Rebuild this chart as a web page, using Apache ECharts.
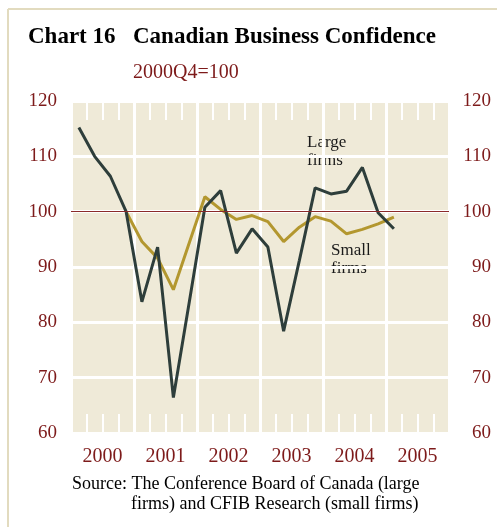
<!DOCTYPE html>
<html>
<head>
<meta charset="utf-8">
<script src="https://cdn.jsdelivr.net/npm/echarts@6/dist/echarts.min.js"></script>
<style>
html,body{margin:0;padding:0;background:#fff;}
#c{width:497px;height:527px;}
</style>
</head>
<body>
<div id="c"></div>
<script>
var quarters = ['2000Q1','2000Q2','2000Q3','2000Q4','2001Q1','2001Q2','2001Q3','2001Q4',
  '2002Q1','2002Q2','2002Q3','2002Q4','2003Q1','2003Q2','2003Q3','2003Q4',
  '2004Q1','2004Q2','2004Q3','2004Q4','2005Q1','2005Q2','2005Q3','2005Q4'];
var years = ['2000','2001','2002','2003','2004','2005'];
var largeFirms = [115.2,110.0,106.4,100.0, 83.7,93.6,66.4,83.5, 100.8,103.8,92.5,96.9,
  93.6,78.4,91.2,104.3, 103.2,103.7,108.0,99.8, 96.9,null,null,null];
var smallFirms = [null,null,null,100.0, 94.6,91.6,85.9,94.3, 102.7,100.4,98.6,99.3,
  98.2,94.6,97.2,99.1, 98.3,96.0,96.8,97.8, 99.0,null,null,null];
var yMin = 60, yMax = 120, yStep = 10;

var serif = '"Liberation Serif", "Times New Roman", serif';
var red = '#7d1a1a';
var chart = echarts.init(document.getElementById('c'), null, {renderer:'canvas'});
var qAxisBase = {
  type:'category', data: quarters, boundaryGap:true, gridIndex:0,
  axisLine:{show:false},
  axisLabel:{show:false},
  axisTick:{show:true, inside:true, length:19, interval:0, lineStyle:{color:'#ffffff', width:2}}
};
chart.setOption({
  animation:false,
  grid:{left:71, right:48, top:101, bottom:94, show:true, backgroundColor:'#efead8', borderWidth:0},
  xAxis:[
    Object.assign({}, qAxisBase, {position:'bottom',
      splitLine:{show:true, interval:3, lineStyle:{color:'#ffffff', width:3}}}),
    Object.assign({}, qAxisBase, {position:'top', splitLine:{show:false}}),
    {type:'category', data: years, boundaryGap:true, position:'bottom', gridIndex:0,
      axisLine:{show:false}, axisTick:{show:false}, splitLine:{show:false},
      axisLabel:{show:true, color:red, fontFamily:serif, fontSize:20, margin:14}}
  ],
  yAxis:[
    {type:'value', min:yMin, max:yMax, interval:yStep, position:'left',
      axisLine:{show:false}, axisTick:{show:false},
      axisLabel:{color:red, fontFamily:serif, fontSize:19, margin:14},
      splitLine:{show:true, lineStyle:{color:'#ffffff', width:3}}},
    {type:'value', min:yMin, max:yMax, interval:yStep, position:'right',
      axisLine:{show:false}, axisTick:{show:false},
      axisLabel:{color:red, fontFamily:serif, fontSize:19, margin:42, align:'right'},
      splitLine:{show:false}}
  ],
  series:[
    {name:'ref', type:'line', xAxisIndex:0, yAxisIndex:0, data:[], z:1,
      markLine:{silent:true, symbol:['none','none'], label:{show:false},
        lineStyle:{color:'#8b2a2a', width:1, type:'solid'}, data:[{yAxis:100}]}},
    {name:'Small firms', type:'line', xAxisIndex:0, yAxisIndex:0, data: smallFirms, z:2,
      showSymbol:false, connectNulls:false, lineStyle:{color:'#b3972f', width:3}},
    {name:'Large firms', type:'line', xAxisIndex:0, yAxisIndex:0, data: largeFirms, z:3,
      showSymbol:false, connectNulls:false, lineStyle:{color:'#2e3e3b', width:3}}
  ],
  graphic:[
    {type:'line', shape:{x1:8, y1:9, x2:497, y2:9}, style:{stroke:'#e2dbbf', lineWidth:2}},
    {type:'line', shape:{x1:8, y1:9, x2:8, y2:527}, style:{stroke:'#e2dbbf', lineWidth:2}},
    {type:'text', left:28, top:26, style:{text:'Chart 16', font:'bold 23px ' + serif, fill:'#000'}},
    {type:'text', left:133, top:26, style:{text:'Canadian Business Confidence', font:'bold 23px ' + serif, fill:'#000'}},
    {type:'text', left:133, top:63, style:{text:'2000Q4=100', font:'20px ' + serif, fill:red}},
    {type:'text', left:307, top:134, style:{text:'Large\nfirms', font:'17px ' + serif, fill:'#1a1a1a', lineHeight:18}},
    {type:'text', left:331, top:242, style:{text:'Small\nfirms', font:'17px ' + serif, fill:'#1a1a1a', lineHeight:18}},
    {type:'text', left:72, top:475, style:{text:'Source: The Conference Board of Canada (large', font:'18px ' + serif, fill:'#000'}},
    {type:'text', left:131, top:495, style:{text:'firms) and CFIB Research (small firms)', font:'18px ' + serif, fill:'#000'}}
  ]
});
</script>
</body>
</html>
